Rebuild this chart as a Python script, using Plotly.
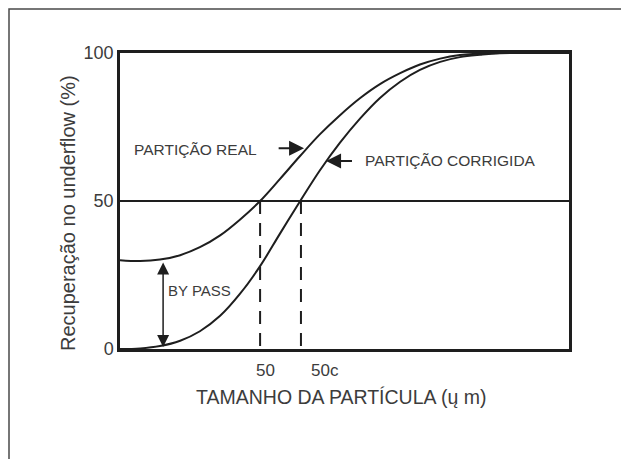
import plotly.graph_objects as go

# Partition curves (particle size in arbitrary units, recovery to underflow in %)
x_real = [0, 4.5, 8.9, 13.4, 17.8, 22.3, 26.7, 31.2, 35.6, 40.1, 44.5, 49.0, 53.5,
          57.9, 62.4, 66.8, 71.3, 75.7, 80.2, 84.6, 100]
y_real = [30.0, 29.7, 30.2, 31.7, 34.4, 38.4, 43.7, 50.0, 57.4, 65.2, 72.5, 79.0, 84.8,
          89.5, 93.2, 96.1, 98.1, 99.3, 99.8, 100, 100]
x_corr = [0, 4.5, 8.9, 13.4, 17.8, 22.3, 26.7, 31.2, 35.6, 40.1, 44.5, 49.0, 53.5,
          57.9, 62.4, 66.8, 71.3, 75.7, 80.2, 84.6, 100]
y_corr = [0, 0.2, 1.0, 2.8, 6.0, 11.2, 18.6, 28.0, 38.9, 49.9, 60.3, 69.7, 77.9,
          84.8, 90.3, 94.3, 97.0, 98.6, 99.4, 99.9, 100]

d50 = 31.2      # cut size, real partition
d50c = 40.3     # cut size, corrected partition
bypass = 30.0   # by-pass fraction (%)

y_ticks = [0, 50, 100]
y_tick_text = ["0", "50", "100"]
x_tick_pos = [32.5, 45.7]
x_tick_text = ["50", "50c"]

LINE = "#1e1e1e"
TEXT = "#3c3c3c"
FONT = "Liberation Sans, Arial, sans-serif"

fig = go.Figure()

# 50% reference line
fig.add_trace(go.Scatter(x=[0, 100], y=[50, 50], mode="lines",
                         line=dict(color=LINE, width=2), hoverinfo="skip"))
# dashed cut-size lines
for xv in [d50, d50c]:
    fig.add_trace(go.Scatter(x=[xv, xv], y=[50, 0], mode="lines",
                             line=dict(color=LINE, width=2, dash="13px,9px"),
                             hoverinfo="skip"))
# curves
fig.add_trace(go.Scatter(x=x_real, y=y_real, mode="lines", line_shape="spline",
                         line=dict(color=LINE, width=2), name="Partição real"))
fig.add_trace(go.Scatter(x=x_corr, y=y_corr, mode="lines", line_shape="spline",
                         line=dict(color=LINE, width=2), name="Partição corrigida"))

ann = []
# x tick labels
for xv, t in zip(x_tick_pos, x_tick_text):
    ann.append(dict(x=xv, y=-0.071, xref="x", yref="paper", text=t, showarrow=False,
                    font=dict(size=17, color=TEXT), xanchor="center", yanchor="middle"))
# axis titles
ann.append(dict(x=(341 - 120) / 449, y=(349 - 397) / 296, xref="paper", yref="paper",
                text="TAMANHO DA PARTÍCULA (ų m)", showarrow=False,
                font=dict(size=19.5, color=TEXT), xanchor="center", yanchor="middle"))
ann.append(dict(x=(68 - 120) / 449, y=(349 - 213) / 296, xref="paper", yref="paper",
                text="Recuperação no underflow (%)", showarrow=False, textangle=-90,
                font=dict(size=20, color=TEXT), xanchor="center", yanchor="middle"))
# labels
ann.append(dict(x=16.9, y=67.5, text="PARTIÇÃO REAL", showarrow=False,
                font=dict(size=15.5, color=TEXT), xanchor="center", yanchor="middle"))
ann.append(dict(x=73.6, y=63.8, text="PARTIÇÃO CORRIGIDA", showarrow=False,
                font=dict(size=15.5, color=TEXT), xanchor="center", yanchor="middle"))
ann.append(dict(x=17.8, y=19.7, text="BY PASS", showarrow=False,
                font=dict(size=15, color=TEXT), xanchor="center", yanchor="middle"))
# arrows
ann.append(dict(x=41.0, y=67.8, ax=35.0, ay=67.8, axref="x", ayref="y", text="",
                showarrow=True, arrowhead=2, arrowsize=1.5, arrowwidth=2, arrowcolor=LINE))
ann.append(dict(x=45.9, y=63.5, ax=52.0, ay=63.5, axref="x", ayref="y", text="",
                showarrow=True, arrowhead=2, arrowsize=1.5, arrowwidth=2, arrowcolor=LINE))
ann.append(dict(x=9.6, y=0.7, ax=9.6, ay=bypass - 0.3, axref="x", ayref="y", text="",
                showarrow=True, arrowhead=2, startarrowhead=2, arrowside="end+start",
                arrowsize=1.6, startarrowsize=1.6, arrowwidth=1.5, arrowcolor=LINE))

fig.update_layout(
    width=629, height=459,
    margin=dict(l=112, r=68, t=45, b=118),
    paper_bgcolor="white", plot_bgcolor="white",
    showlegend=False,
    font=dict(family=FONT, color=TEXT),
    annotations=ann,
    shapes=[dict(type="rect", xref="paper", yref="paper",
                 x0=(9 - 120) / 449, x1=(660 - 120) / 449,
                 y0=(349 - 480) / 296, y1=(349 - 9) / 296,
                 line=dict(color="#4a4a4a", width=1.5), layer="below")],
)
fig.update_xaxes(range=[0, 100], showgrid=False, zeroline=False, showticklabels=False,
                 showline=True, mirror=True, linecolor=LINE, linewidth=2.5, ticks="")
fig.update_yaxes(range=[0, 100], showgrid=False, zeroline=False, tickvals=y_ticks,
                 ticktext=y_tick_text, tickfont=dict(size=18, color=TEXT),
                 showline=True, mirror=True, linecolor=LINE, linewidth=2.5, ticks="")

fig.write_html("out.html")
